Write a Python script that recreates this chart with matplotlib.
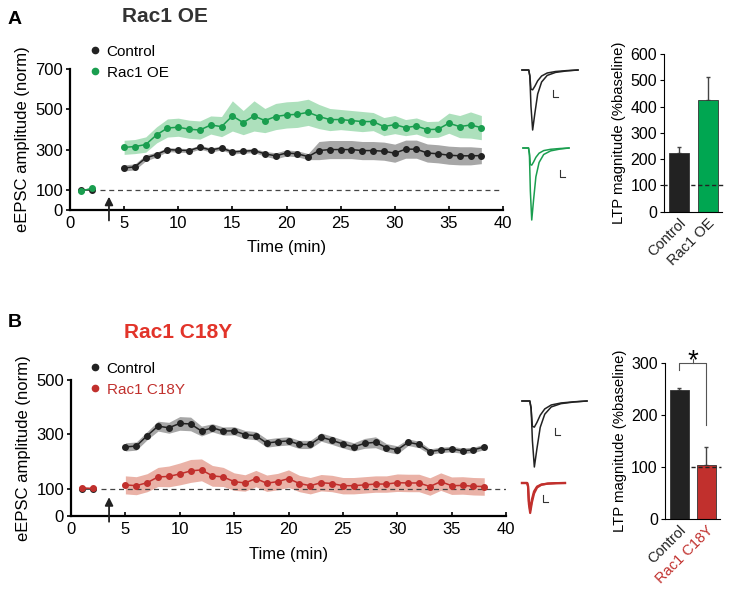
"""Rac1 OE / Rac1 C18Y LTP time courses with summary bars."""

import matplotlib

matplotlib.use("Agg")

import matplotlib.pyplot as plt
from matplotlib.lines import Line2D

plt.rcParams["font.family"] = ["Liberation Sans", "DejaVu Sans"]
plt.rcParams["font.size"] = 10

W, H = 734, 592

# ---- time course data (min, % of baseline) ----
base_t = [1, 2]
post_t = list(range(5, 39))

a_ctrl_base = [100, 100]
a_oe_base = [93, 108]
a_ctrl = [209, 214, 259, 275, 300, 297, 295, 312, 298, 308, 288, 292, 295, 279, 269, 283, 279,
          265, 295, 300, 300, 300, 295, 295, 292, 282, 302, 302, 283, 279, 272, 269, 269, 270]
a_ctrl_sem = [15, 15, 15, 12, 10, 10, 10, 10, 10, 10, 10, 10, 10, 12, 15, 15, 15,
              15, 45, 45, 45, 45, 45, 45, 45, 45, 45, 45, 45, 45, 45, 45, 45, 40]
a_oe = [311, 315, 325, 373, 407, 411, 401, 397, 422, 414, 467, 434, 467, 444, 464, 472, 475,
        485, 464, 449, 449, 444, 439, 439, 414, 424, 409, 417, 399, 401, 431, 414, 422, 409]
a_oe_sem = [35, 35, 38, 40, 45, 45, 45, 45, 45, 50, 75, 60, 75, 60, 65, 65, 65,
            65, 60, 55, 50, 50, 50, 45, 45, 45, 40, 40, 40, 40, 50, 55, 65, 60]

b_ctrl_base = [100, 100]
b_mut_base = [104, 102]
b_ctrl = [254, 257, 295, 330, 324, 340, 338, 312, 324, 312, 313, 299, 295, 268, 273, 276, 263,
          263, 290, 278, 265, 254, 267, 271, 251, 243, 271, 263, 237, 243, 246, 240, 243, 254]
b_ctrl_sem = [15, 15, 15, 18, 20, 25, 25, 18, 15, 15, 15, 15, 15, 15, 15, 15, 15,
              15, 15, 15, 15, 15, 18, 20, 15, 15, 12, 12, 10, 10, 10, 10, 10, 10]
b_mut = [115, 112, 123, 144, 146, 155, 166, 170, 148, 144, 127, 122, 138, 121, 127, 138, 120,
         112, 123, 120, 112, 112, 115, 118, 118, 123, 122, 122, 109, 127, 112, 113, 110, 109]
b_mut_sem = [33, 33, 33, 35, 38, 40, 42, 40, 38, 35, 32, 30, 30, 30, 30, 32, 30,
             30, 30, 30, 30, 30, 30, 30, 30, 32, 32, 32, 32, 32, 32, 32, 32, 32]

# ---- LTP summary bars ----
a_bar_labels = ["Control", "Rac1 OE"]
a_bar_vals = [222, 425]
a_bar_err = [23, 87]
b_bar_labels = ["Control", "Rac1 C18Y"]
b_bar_vals = [247, 104]
b_bar_err = [5, 34]

# ---- example traces (normalised to largest sweep) ----
trace_t = [0.0, 0.12, 0.14, 0.16, 0.19, 0.23, 0.28, 0.35, 0.45, 0.6, 0.8, 1.0]
trace_big = [0, 0, -0.1, -0.6, -1.0, -0.72, -0.4, -0.2, -0.09, -0.04, -0.015, 0]
trace_small = [0, 0, -0.1, -0.32, -0.33, -0.27, -0.18, -0.1, -0.05, -0.025, -0.01, 0]
trace_c18y_big = [0, 0, -0.1, -0.7, -1.0, -0.65, -0.35, -0.15, -0.06, -0.02, -0.005, 0]
trace_c18y_small = [0, 0, -0.1, -0.6, -0.9, -0.55, -0.28, -0.12, -0.05, -0.02, -0.005, 0]

BLACK = "#222222"
GREEN = "#1a9e4f"
GREEN_BAR = "#00a651"
RED = "#c1302d"
RED_TITLE = "#e2342a"
GRAY_BAND = "#8a8a8a"


def rect(x0, y0, x1, y1):
    """Pixel box (top-left origin) -> figure fraction rect."""
    return [x0 / W, 1 - y1 / H, (x1 - x0) / W, (y1 - y0) / H]


def time_course(ax, ctrl_base, grp_base, ctrl, ctrl_sem, grp, grp_sem, color, band, band_alpha, ymax, yticks):
    lo = [m - s for m, s in zip(ctrl, ctrl_sem)]
    hi = [m + s for m, s in zip(ctrl, ctrl_sem)]
    ax.fill_between(post_t, lo, hi, color=GRAY_BAND, alpha=0.75, lw=0)
    lo = [m - s for m, s in zip(grp, grp_sem)]
    hi = [m + s for m, s in zip(grp, grp_sem)]
    ax.fill_between(post_t, lo, hi, color=band, alpha=band_alpha, lw=0)
    ax.axhline(100, xmin=2.8 / 40, color="#444444", lw=0.9, ls=(0, (4, 3)))
    kw = dict(marker="o", ms=4.0, lw=1.1)
    ax.plot(base_t, ctrl_base, color=BLACK, **kw)
    ax.plot(post_t, ctrl, color=BLACK, **kw)
    ax.plot(base_t, grp_base, color=color, **kw)
    ax.plot(post_t, grp, color=color, **kw)

    ax.set_xlim(0, 40)
    ax.set_ylim(0, ymax)
    ax.set_xticks(range(0, 41, 5))
    ax.set_yticks(yticks)
    for s in ("top", "right"):
        ax.spines[s].set_visible(False)
    for s in ("left", "bottom"):
        ax.spines[s].set_linewidth(1.6)
    ax.tick_params(axis="x", direction="in", length=3, width=1.2, labelsize=12, pad=4)
    ax.tick_params(axis="y", direction="out", length=3, width=1.2, labelsize=12, pad=2)
    ax.set_xlabel("Time (min)", fontsize=12, labelpad=7)
    ax.set_ylabel("eEPSC amplitude (norm)", fontsize=12, labelpad=4)
    ax.patch.set_alpha(0)


def bars(ax, labels, vals, errs, colors, ymax, yticks, label_colors):
    x = range(len(vals))
    ax.bar(x, vals, width=0.7, color=colors, edgecolor="#333333", lw=0.6, zorder=2)
    ax.errorbar(x, vals, yerr=[[0] * len(errs), errs], fmt="none", ecolor="#444444",
                elinewidth=1.0, capsize=1.5, zorder=1)
    ax.set_xlim(-0.53, 1.5)
    ax.set_ylim(0, ymax)
    ax.set_yticks(yticks)
    ax.set_xticks(list(x))
    ax.set_xticklabels(labels, rotation=45, ha="right", rotation_mode="anchor", fontsize=10.5)
    for t, c in zip(ax.get_xticklabels(), label_colors):
        t.set_color(c)
    for s in ("top", "right"):
        ax.spines[s].set_visible(False)
    ax.tick_params(axis="x", length=0, pad=3)
    ax.tick_params(axis="y", direction="out", length=3, labelsize=11.5, pad=2)
    ax.set_ylabel("LTP magnitude (%baseline)", fontsize=10.7, labelpad=3)
    ax.patch.set_alpha(0)


def trace(box, big, small, color, lw=1.1):
    ax = fig.add_axes(rect(*box))
    ax.plot(trace_t, small, color=color, lw=lw, clip_on=False)
    ax.plot(trace_t, big, color=color, lw=lw, clip_on=False)
    ax.set_xlim(0, 1)
    ax.set_ylim(-1, 0)
    ax.axis("off")


def scale_bar(x, y):
    fig.add_artist(Line2D([x / W, x / W, (x + 5) / W], [1 - y / H, 1 - (y + 7) / H, 1 - (y + 7) / H],
                          color="#333333", lw=0.8))


def stim_arrow(ax, x, y0, y1):
    ax.annotate("", xy=(x, y1), xytext=(x, y0),
                arrowprops=dict(arrowstyle="-|>", color=BLACK, lw=1.3, mutation_scale=12,
                                shrinkA=0, shrinkB=0),
                annotation_clip=False)


fig = plt.figure(figsize=(W / 100, H / 100), dpi=100)

# ---------------- Panel A ----------------
ax_a = fig.add_axes(rect(70, 69, 503, 210))
time_course(ax_a, a_ctrl_base, a_oe_base, a_ctrl, a_ctrl_sem, a_oe, a_oe_sem,
            GREEN, "#5cc27a", 0.5, 700, [0, 100, 300, 500, 700])
stim_arrow(ax_a, 3.6, -52, 66)
leg = ax_a.legend(handles=[Line2D([], [], marker="o", ls="none", ms=4.5, color=BLACK),
                           Line2D([], [], marker="o", ls="none", ms=4.5, color=GREEN)],
                  labels=["Control", "Rac1 OE"], loc="upper left",
                  bbox_to_anchor=(80 / W, 1 - 34 / H), bbox_transform=fig.transFigure,
                  frameon=False, handlelength=0.6, handletextpad=0.45, labelspacing=0.45,
                  fontsize=11, borderpad=0.2)

fig.text(8 / W, 1 - 20 / H, "A", fontsize=14, fontweight="bold", va="center")
fig.text(122 / W, 1 - 16 / H, "Rac1 OE", fontsize=15, fontweight="bold", va="center", color="#333333")

trace((522, 70, 578, 130), trace_big, trace_small, BLACK)
trace((523, 148, 569, 220), trace_big, [v * 0.72 for v in trace_small], GREEN)
scale_bar(553, 90)
scale_bar(560, 170)

bx_a = fig.add_axes(rect(664, 54, 722, 211.7))
bars(bx_a, a_bar_labels, a_bar_vals, a_bar_err, [BLACK, GREEN_BAR], 600,
     range(0, 601, 100), [BLACK, BLACK])
bx_a.plot([-0.55, 1.55], [100, 100], color=BLACK, lw=1.0, ls=(0, (3, 2)), zorder=3, clip_on=False)

# ---------------- Panel B ----------------
ax_b = fig.add_axes(rect(71, 379.7, 506, 516.3))
time_course(ax_b, b_ctrl_base, b_mut_base, b_ctrl, b_ctrl_sem, b_mut, b_mut_sem,
            RED, "#d9735f", 0.55, 500, [0, 100, 300, 500])
stim_arrow(ax_b, 3.5, -20, 70)
leg = ax_b.legend(handles=[Line2D([], [], marker="o", ls="none", ms=4.5, color=BLACK),
                           Line2D([], [], marker="o", ls="none", ms=4.5, color=RED)],
                  labels=["Control", "Rac1 C18Y"], loc="upper left",
                  bbox_to_anchor=(80 / W, 1 - 351 / H), bbox_transform=fig.transFigure,
                  frameon=False, handlelength=0.6, handletextpad=0.45, labelspacing=0.45,
                  fontsize=11, borderpad=0.2)
leg.get_texts()[1].set_color(RED)

fig.text(8 / W, 1 - 322 / H, "B", fontsize=14, fontweight="bold", va="center")
fig.text(124 / W, 1 - 333 / H, "Rac1 C18Y", fontsize=15, fontweight="bold", va="center", color=RED_TITLE)

trace((522, 401, 587, 467), trace_big, [v * 1.2 for v in trace_small], BLACK)
trace((522, 483, 565, 513), trace_c18y_big, trace_c18y_small, RED, lw=1.6)
scale_bar(555, 428)
scale_bar(543, 495)

bx_b = fig.add_axes(rect(664.7, 362.7, 720, 518.7))
bars(bx_b, b_bar_labels, b_bar_vals, b_bar_err, [BLACK, RED], 300,
     [0, 100, 200, 300], [BLACK, RED])
bx_b.plot([0.45, 1.55], [100, 100], color=BLACK, lw=1.0, ls=(0, (3, 2)), zorder=3, clip_on=False)
bx_b.plot([0, 0, 1, 1], [286, 300, 300, 180], color="#555555", lw=0.8, clip_on=False)
bx_b.plot([0.5, 0.5], [300, 308], color="#555555", lw=0.8, clip_on=False)
bx_b.text(0.5, 303, "*", ha="center", va="center", fontsize=20, clip_on=False)

fig.savefig("out.png", dpi=100)
